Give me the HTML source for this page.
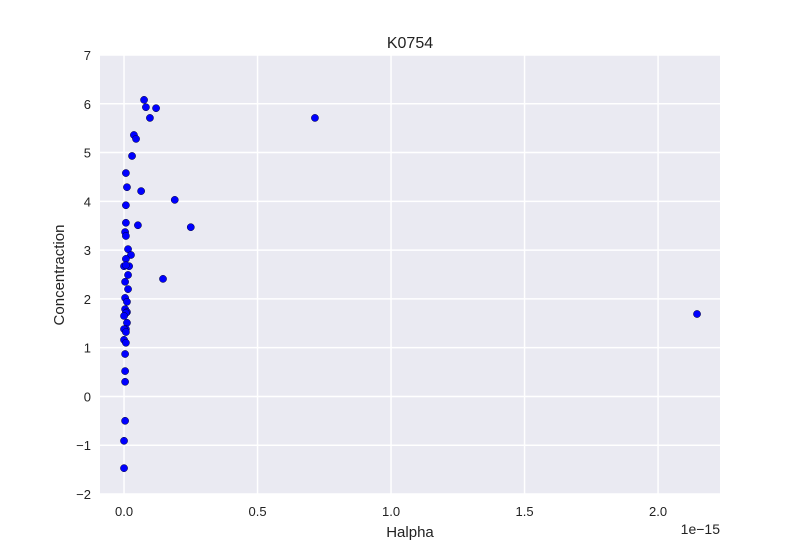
<!DOCTYPE html>
<html><head><meta charset="utf-8"><style>
body{margin:0;background:#fff;}
svg text{font-family:"Liberation Sans",sans-serif;fill:#222;}
</style></head><body>
<svg id="chart" width="800" height="550">
<rect x="100" y="55" width="620" height="439" fill="#eaeaf2"/>
<g id="grid"></g><g id="pts"></g><g id="ticks"></g>
<text x="410" y="48" text-anchor="middle" font-size="16">K0754</text>
<text x="410" y="537" text-anchor="middle" font-size="15">Halpha</text>
<text x="64" y="275" text-anchor="middle" font-size="15" transform="rotate(-90 64 275)">Concentraction</text>
<text x="720" y="534" text-anchor="end" font-size="14">1e−15</text>
</svg>
<script>
const xValues=[0.075,0.082,0.12,0.097,0.037,0.045,0.03,0.007,0.011,0.064,0.007,0.19,0.007,0.052,0.004,0.007,0.25,0.015,0.026,0.007,0.0,0.019,0.007,0.015,0.004,0.146,0.015,0.004,0.011,0.004,0.011,0.007,0.0,0.011,0.007,0.0,0.007,0.0,0.007,0.004,0.004,0.004,0.004,0.0,0.0,0.715,2.146];
const yValues=[6.08,5.93,5.91,5.71,5.36,5.28,4.93,4.58,4.29,4.21,3.92,4.03,3.56,3.51,3.37,3.29,3.47,3.02,2.9,2.82,2.67,2.67,2.69,2.49,2.35,2.41,2.2,2.02,1.94,1.79,1.73,1.71,1.65,1.51,1.38,1.38,1.32,1.16,1.1,0.87,0.52,0.3,-0.5,-0.91,-1.47,5.71,1.69];
const xTicks=[0,0.5,1,1.5,2];
const xTickLabels=["0.0","0.5","1.0","1.5","2.0"];
const yTicks=[-2,-1,0,1,2,3,4,5,6,7];
const yTickLabels=["−2","−1","0","1","2","3","4","5","6","7"];
const X0=100,X1=720,Y0=55,Y1=494,xmin=-0.09,xmax=2.232,ymin=-2,ymax=7;
const sx=v=>X0+(v-xmin)/(xmax-xmin)*(X1-X0);
const sy=v=>Y1-(v-ymin)/(ymax-ymin)*(Y1-Y0);
const NS="http://www.w3.org/2000/svg";
function mk(t,a,p){const e=document.createElementNS(NS,t);for(const k in a)e.setAttribute(k,a[k]);p.appendChild(e);return e;}
const g=document.getElementById('grid'),tk=document.getElementById('ticks'),pts=document.getElementById('pts');
xTicks.forEach((v,i)=>{
 const l=mk('line',{x1:sx(v),x2:sx(v),y1:Y0,y2:Y1,stroke:'#fff','stroke-width':1.5},g);
 
 
 const t=mk('text',{x:sx(v),y:516,'text-anchor':'middle','font-size':13},tk);t.textContent=xTickLabels[i];
 
 
});
yTicks.forEach((v,i)=>{
 const l=mk('line',{x1:X0,x2:X1,y1:sy(v),y2:sy(v),stroke:'#fff','stroke-width':1.5},g);
 
 
 const t=mk('text',{x:91,y:sy(v)+5,'text-anchor':'end','font-size':13},tk);t.textContent=yTickLabels[i];
 
 
});
xValues.forEach((v,i)=>{
 const c=mk('circle',{cx:sx(v),cy:sy(yValues[i]),r:3.6,fill:'#0000ff',stroke:'#000033','stroke-width':0.5},pts);
 
 
});
</script>
</body></html>
